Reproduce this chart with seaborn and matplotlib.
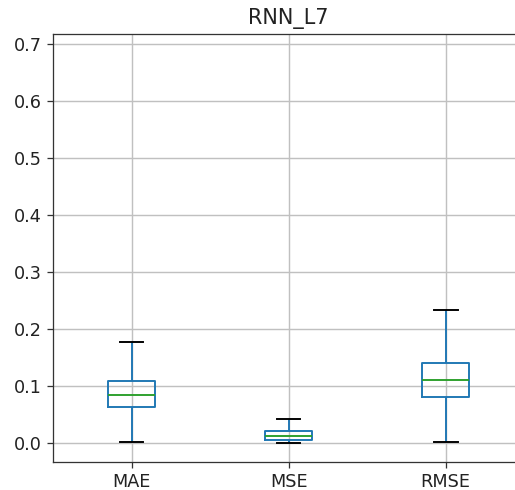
import matplotlib
matplotlib.use('Agg')
import matplotlib.pyplot as plt
import seaborn as sns
import pandas as pd

# five-number summaries (min, q1, median, q3, max)
metricas = ['MAE', 'MSE', 'RMSE']
mae = [0.003, 0.063, 0.085, 0.109, 0.178]
mse = [0.000, 0.006, 0.013, 0.022, 0.043]
rmse = [0.003, 0.081, 0.110, 0.141, 0.233]

df = pd.DataFrame({'MAE': mae, 'MSE': mse, 'RMSE': rmse})
df_long = df.melt(var_name='metrica', value_name='valor')

plt.rcParams['font.size'] = 11
plt.rcParams['axes.edgecolor'] = '#333333'
plt.rcParams['xtick.color'] = '#333333'
plt.rcParams['ytick.color'] = '#333333'

dpi = 115.2
fig = plt.figure(figsize=(515 / dpi, 490 / dpi), dpi=dpi)
ax = fig.add_axes([0.103, 0.057, 0.915, 0.874])

lw = 1.2
sns.boxplot(
    data=df_long,
    x='metrica',
    y='valor',
    order=metricas,
    ax=ax,
    fill=False,
    color='#1f77b4',
    width=0.3,
    whis=(0, 100),
    showfliers=False,
    linewidth=lw,
    medianprops=dict(color='#2ca02c', linewidth=lw),
    capprops=dict(color='black', linewidth=lw),
    whiskerprops=dict(color='#1f77b4', linewidth=lw),
    boxprops=dict(color='#1f77b4', linewidth=lw),
)

ax.set_title('RNN_L7', fontsize=13, color='#222222')
ax.set_xlabel('')
ax.set_ylabel('')
ax.set_xlim(-0.5, 2.5)
ax.set_ylim(-0.033, 0.717)
ax.set_yticks([0.0, 0.1, 0.2, 0.3, 0.4, 0.5, 0.6, 0.7])
ax.tick_params(labelcolor='#222222')
ax.grid(True, color='#c0c0c0', linewidth=0.9)
ax.set_axisbelow(True)

fig.savefig('out.png', dpi=dpi)
